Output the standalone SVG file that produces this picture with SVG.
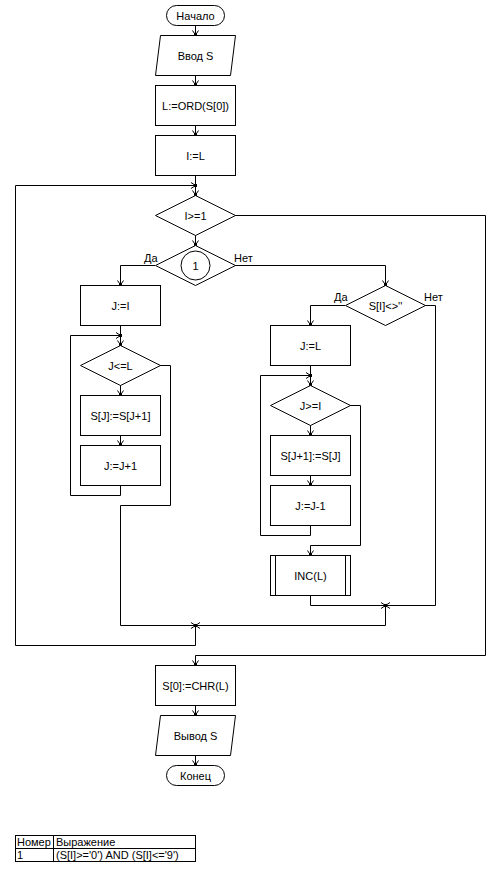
<svg xmlns="http://www.w3.org/2000/svg" width="500" height="891" viewBox="0 0 500 891">
<defs>
<marker id="a" markerUnits="userSpaceOnUse" markerWidth="10" markerHeight="10" refX="0" refY="0" viewBox="-6 -5 8 10" orient="auto" overflow="visible">
<path d="M-4.5,-3 L0,0 L-4.5,3" fill="none" stroke="#000" stroke-width="1"/>
<rect x="-1.5" y="-1.5" width="3" height="3" fill="#000"/>
</marker>
<style>
.s{fill:#fff;stroke:#000;stroke-width:1}
.c{fill:none;stroke:#000;stroke-width:1;marker-end:url(#a)}
.l{fill:none;stroke:#000;stroke-width:1}
text{font-family:"Liberation Sans","DejaVu Sans",sans-serif;font-size:11px;fill:#000}
.m{text-anchor:middle;dominant-baseline:central}
</style>
</defs>
<rect width="500" height="891" fill="#fff"/>
<g id="connectors">
<path class="c" d="M195.5,25 V35"/>
<path class="c" d="M195.5,75 V85"/>
<path class="c" d="M195.5,125 V135"/>
<path class="c" d="M195.5,175 V195"/>
<path class="c" d="M195.5,625 V645.5 H15.5 V185.5 H195.5"/>
<path class="c" d="M195.5,235 V245"/>
<path class="c" d="M155,265.5 H120.5 V285"/>
<path class="c" d="M235,265.5 H385.5 V285"/>
<path class="c" d="M235,215.5 H485.5 V655.5 H195.5 V665"/>
<path class="c" d="M120.5,325 V345"/>
<path class="c" d="M120.5,485 V495.5 H70.5 V335.5 H120.5"/>
<path class="c" d="M120.5,385 V395"/>
<path class="c" d="M120.5,435 V445"/>
<path class="c" d="M160,365.5 H170.5 V505.5 H120.5 V625.5 H195.5"/>
<path class="c" d="M345,305.5 H310.5 V325"/>
<path class="c" d="M425,305.5 H435.5 V605.5 H385.5"/>
<path class="c" d="M310.5,365 V385"/>
<path class="c" d="M310.5,525 V535.5 H260.5 V375.5 H310.5"/>
<path class="c" d="M310.5,425 V435"/>
<path class="c" d="M310.5,475 V485"/>
<path class="c" d="M350,405.5 H360.5 V545.5 H310.5 V555"/>
<path class="c" d="M310.5,595 V605.5 H385.5"/>
<path class="c" d="M385.5,605 V625.5 H195.5"/>
<path class="c" d="M195.5,705 V715"/>
<path class="c" d="M195.5,755 V765"/>
</g>
<g id="start"><rect class="s" x="166.5" y="5.5" width="58" height="20" rx="10" ry="10"/><text class="m" x="195.5" y="15.5">Начало</text></g>
<g id="input"><polygon class="s" points="160.5,35.5 235.5,35.5 230.5,75.5 155.5,75.5"/><text class="m" x="195.5" y="55.5">Ввод S</text></g>
<g id="ord"><rect class="s" x="155.5" y="85.5" width="80" height="40"/><text class="m" x="195.5" y="105.5">L:=ORD(S[0])</text></g>
<g id="il"><rect class="s" x="155.5" y="135.5" width="80" height="40"/><text class="m" x="195.5" y="155.5">I:=L</text></g>
<g id="cond1"><polygon class="s" points="195.5,195.5 235.5,215.5 195.5,235.5 155.5,215.5"/><text class="m" x="195.5" y="215.5">I&gt;=1</text></g>
<g id="cond2"><polygon class="s" points="195.5,245.5 235.5,265.5 195.5,285.5 155.5,265.5"/><circle class="s" cx="195.5" cy="265.5" r="14.5"/><text class="m" x="195.5" y="265.5">1</text>
<text x="144" y="262">Да</text><text x="234" y="262">Нет</text></g>
<g id="ji"><rect class="s" x="80.5" y="285.5" width="80" height="40"/><text class="m" x="120.5" y="305.5">J:=I</text></g>
<g id="cond3"><polygon class="s" points="120.5,345.5 160.5,365.5 120.5,385.5 80.5,365.5"/><text class="m" x="120.5" y="365.5">J&lt;=L</text></g>
<g id="shiftl"><rect class="s" x="80.5" y="395.5" width="80" height="40"/><text class="m" x="120.5" y="415.5">S[J]:=S[J+1]</text></g>
<g id="jinc"><rect class="s" x="80.5" y="445.5" width="80" height="40"/><text class="m" x="120.5" y="465.5">J:=J+1</text></g>
<g id="cond4"><polygon class="s" points="385.5,285.5 425.5,305.5 385.5,325.5 345.5,305.5"/><text class="m" x="385.5" y="305.5">S[I]&lt;&gt;''</text>
<text x="334" y="301">Да</text><text x="424" y="301">Нет</text></g>
<g id="jl"><rect class="s" x="270.5" y="325.5" width="80" height="40"/><text class="m" x="310.5" y="345.5">J:=L</text></g>
<g id="cond5"><polygon class="s" points="310.5,385.5 350.5,405.5 310.5,425.5 270.5,405.5"/><text class="m" x="310.5" y="405.5">J&gt;=I</text></g>
<g id="shiftr"><rect class="s" x="270.5" y="435.5" width="80" height="40"/><text class="m" x="310.5" y="455.5">S[J+1]:=S[J]</text></g>
<g id="jdec"><rect class="s" x="270.5" y="485.5" width="80" height="40"/><text class="m" x="310.5" y="505.5">J:=J-1</text></g>
<g id="incl"><rect class="s" x="270.5" y="555.5" width="80" height="40"/><path class="l" d="M275.5,555.5 V595.5 M345.5,555.5 V595.5"/><text class="m" x="310.5" y="575.5">INC(L)</text></g>
<g id="chr"><rect class="s" x="155.5" y="665.5" width="80" height="40"/><text class="m" x="195.5" y="685.5">S[0]:=CHR(L)</text></g>
<g id="output"><polygon class="s" points="160.5,715.5 235.5,715.5 230.5,755.5 155.5,755.5"/><text class="m" x="195.5" y="735.5">Вывод S</text></g>
<g id="end"><rect class="s" x="166.5" y="765.5" width="58" height="20" rx="10" ry="10"/><text class="m" x="195.5" y="775.5">Конец</text></g>
<g id="table">
<rect class="s" x="15.5" y="835.5" width="180" height="26"/>
<path class="l" d="M15.5,848.5 H195.5 M53.5,835.5 V861.5"/>
<text x="17" y="846">Номер</text><text x="56" y="846">Выражение</text>
<text x="17" y="859">1</text><text x="56" y="859">(S[I]&gt;='0') AND (S[I]&lt;='9')</text>
</g>
</svg>
